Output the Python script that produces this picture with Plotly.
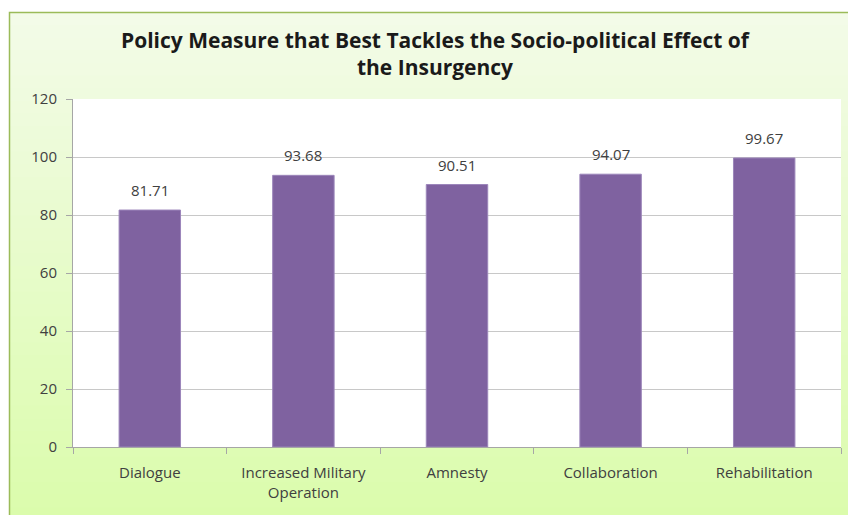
import plotly.graph_objects as go

categories = ["Dialogue", "Increased Military<br>Operation", "Amnesty", "Collaboration", "Rehabilitation"]
values = [81.71, 93.68, 90.51, 94.07, 99.67]
value_labels = ["81.71", "93.68", "90.51", "94.07", "99.67"]
y_ticks = [0, 20, 40, 60, 80, 100, 120]

W, H = 848, 515
ML, MR, MT, MB = 73, 7, 99, 68
PW, PH = W - ML - MR, H - MT - MB
FONT = "Open Sans, Lato, sans-serif"

def px_x(px):
    return (px - ML) / PW

def px_y(py):
    return (H - MB - py) / PH

fig = go.Figure()
fig.add_trace(go.Bar(
    x=categories, y=values,
    marker=dict(color="#7F62A0", line=dict(color="#9C86BA", width=1)),
    hoverinfo="skip",
))

for c, v, t in zip(categories, values, value_labels):
    fig.add_annotation(x=c, y=v, text=t, showarrow=False, yshift=20,
                       font=dict(family=FONT, size=15, color="#404040"))

shapes = []
# gradient background for chart frame
top, bot = (243, 251, 232), (219, 252, 172)
y0p, y1p = 12, H + 5
n = 40
for i in range(n):
    f = i / (n - 1)
    col = tuple(round(top[k] + (bot[k] - top[k]) * f) for k in range(3))
    ya = y0p + (y1p - y0p) * i / n
    yb = y0p + (y1p - y0p) * (i + 1) / n + 1
    shapes.append(dict(type="rect", xref="paper", yref="paper", layer="below",
                       x0=px_x(9), x1=px_x(W + 5), y0=px_y(ya), y1=px_y(yb),
                       fillcolor="rgb(%d,%d,%d)" % col, line=dict(width=0)))
# plot area white
shapes.append(dict(type="rect", xref="paper", yref="paper", layer="below",
                   x0=0, x1=1, y0=0, y1=1, fillcolor="white", line=dict(width=0)))
# frame border
shapes.append(dict(type="rect", xref="paper", yref="paper", layer="below",
                   x0=px_x(9.5), x1=px_x(W + 5), y0=px_y(12.5), y1=px_y(H + 5),
                   fillcolor="rgba(0,0,0,0)", line=dict(color="#9BBB59", width=1.5)))

fig.update_layout(
    width=W, height=H,
    margin=dict(l=ML, r=MR, t=MT, b=MB, pad=0),
    paper_bgcolor="white", plot_bgcolor="rgba(0,0,0,0)",
    shapes=shapes,
    showlegend=False,
    bargap=0.6,
    title=dict(text="<b>Policy Measure that Best Tackles the Socio-political Effect of<br>the Insurgency</b>",
               x=435 / W, xanchor="center", y=1 - 47.5 / H, yanchor="middle",
               font=dict(family=FONT, size=21, color="#1a1a1a")),
    font=dict(family=FONT, size=15, color="#404040"),
)
fig.update_xaxes(
    type="category", tickson="boundaries", ticks="outside", ticklen=6, tickcolor="#A6A6A6",
    showline=True, linecolor="#A6A6A6", linewidth=1, showgrid=False,
    tickfont=dict(family=FONT, size=15, color="#404040"), ticklabelstandoff=12,
)
fig.update_yaxes(
    range=[0, 120], tickvals=y_ticks, ticks="outside", ticklen=6, tickcolor="#A6A6A6",
    showline=True, linecolor="#A6A6A6", linewidth=1,
    showgrid=True, gridcolor="#C8C8C8", gridwidth=1, zeroline=False,
    tickfont=dict(family=FONT, size=15, color="#404040"), ticklabelstandoff=6,
)

fig.write_html("out.html")
